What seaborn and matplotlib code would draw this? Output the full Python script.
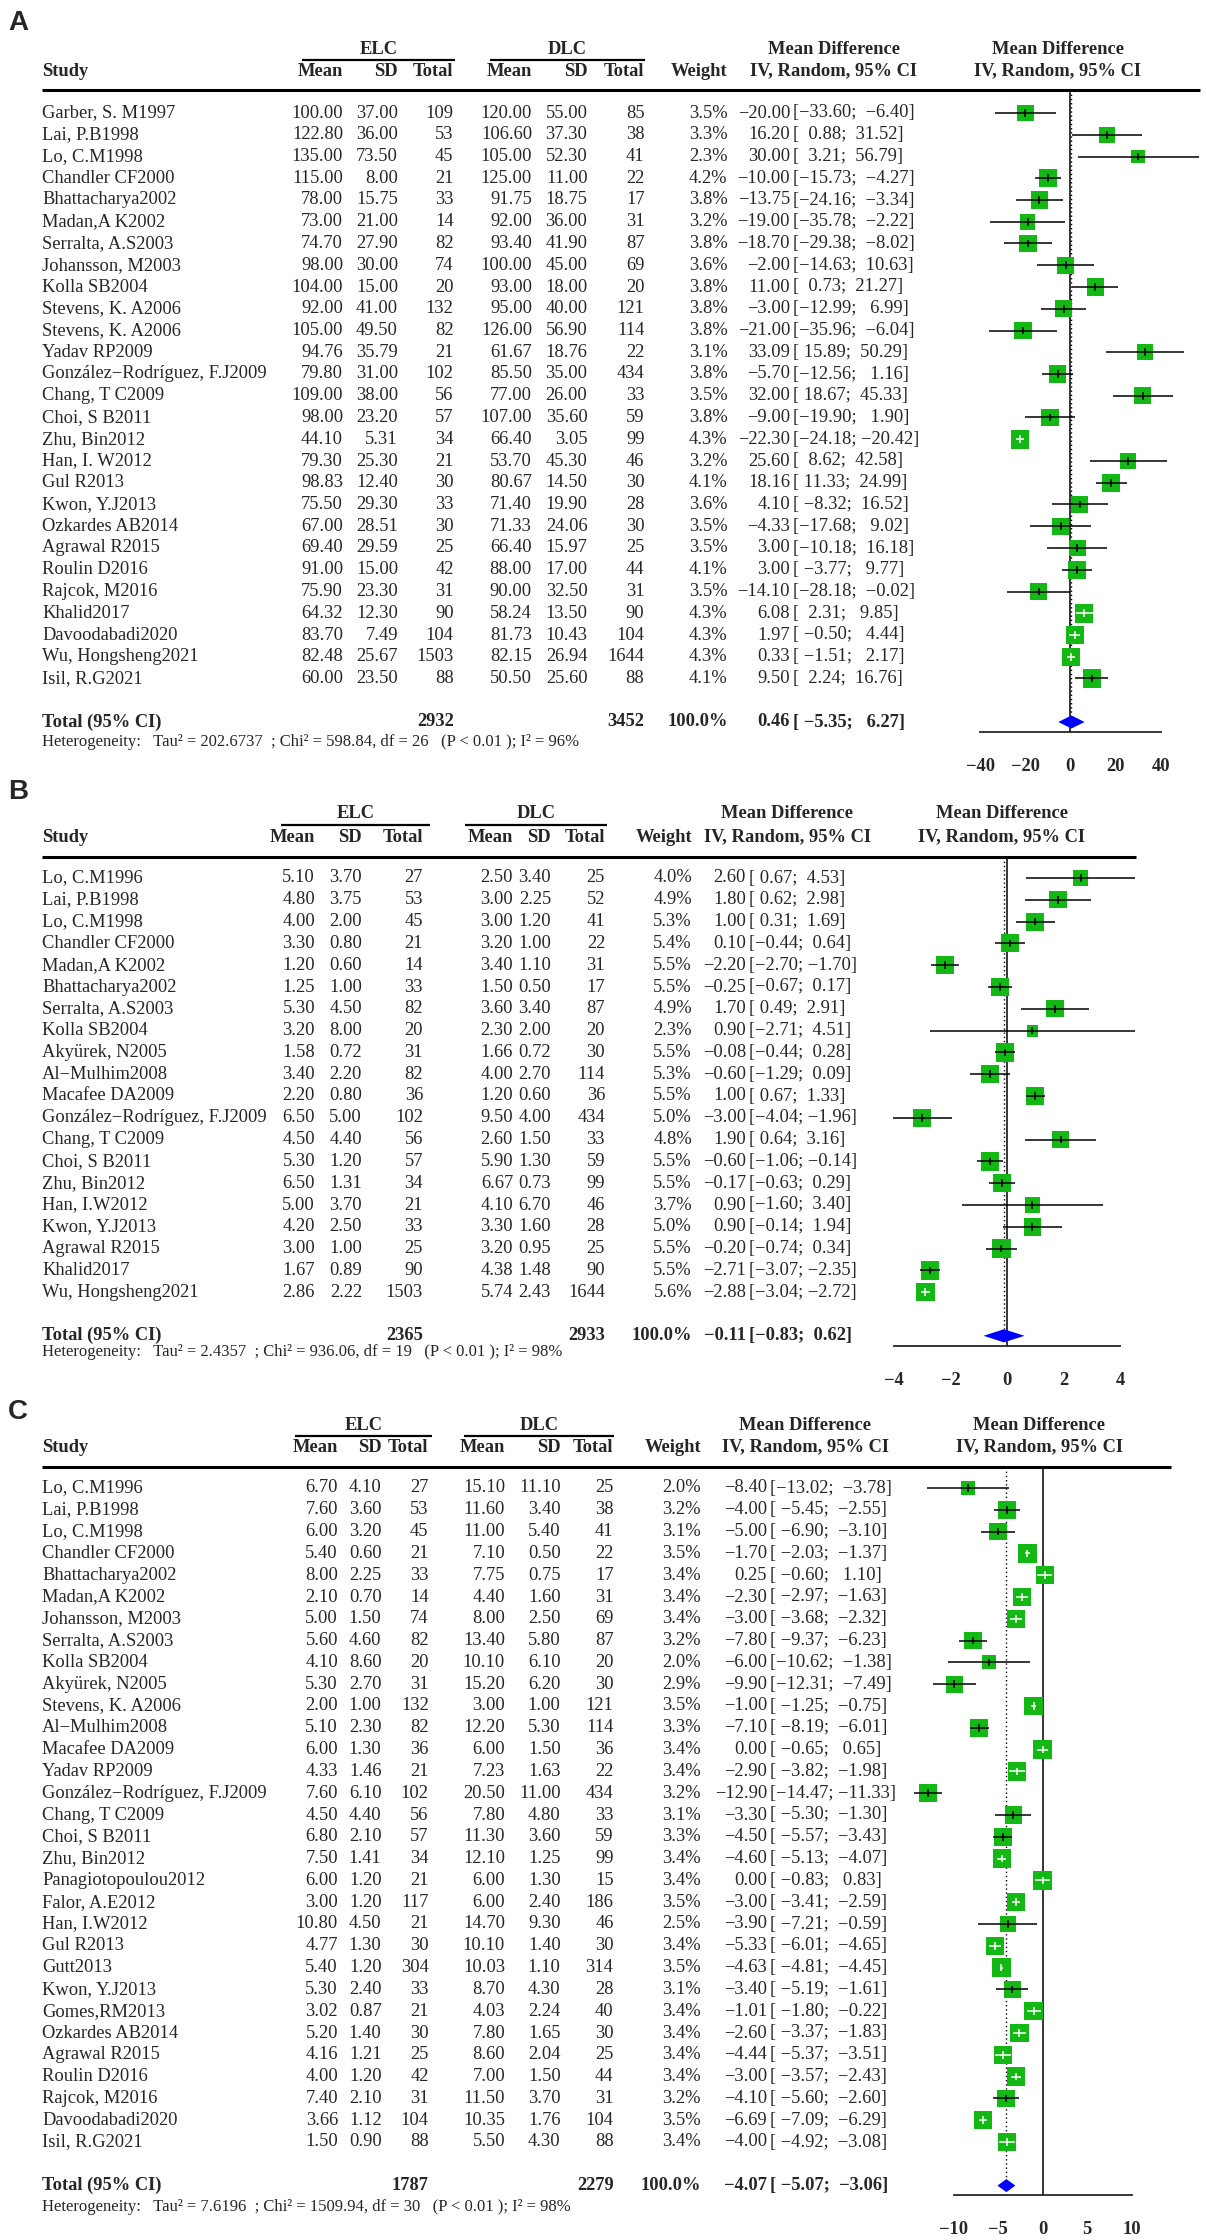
import numpy as np
import matplotlib
matplotlib.use("Agg")
import matplotlib.pyplot as plt
import seaborn as sns

# ---------------- panel A ----------------
a_study = ["Garber, S. M1997", "Lai, P.B1998", "Lo, C.M1998", "Chandler CF2000", "Bhattacharya2002",
           "Madan,A K2002", "Serralta, A.S2003", "Johansson, M2003", "Kolla SB2004", "Stevens, K. A2006",
           "Stevens, K. A2006", "Yadav RP2009", "González−Rodríguez, F.J2009", "Chang, T C2009",
           "Choi, S B2011", "Zhu, Bin2012", "Han, I. W2012", "Gul R2013", "Kwon, Y.J2013",
           "Ozkardes AB2014", "Agrawal R2015", "Roulin D2016", "Rajcok, M2016", "Khalid2017",
           "Davoodabadi2020", "Wu, Hongsheng2021", "Isil, R.G2021"]
a_elc_mean = [100.00, 122.80, 135.00, 115.00, 78.00, 73.00, 74.70, 98.00, 104.00, 92.00, 105.00, 94.76,
              79.80, 109.00, 98.00, 44.10, 79.30, 98.83, 75.50, 67.00, 69.40, 91.00, 75.90, 64.32,
              83.70, 82.48, 60.00]
a_elc_sd = [37.00, 36.00, 73.50, 8.00, 15.75, 21.00, 27.90, 30.00, 15.00, 41.00, 49.50, 35.79, 31.00,
            38.00, 23.20, 5.31, 25.30, 12.40, 29.30, 28.51, 29.59, 15.00, 23.30, 12.30, 7.49, 25.67, 23.50]
a_elc_n = [109, 53, 45, 21, 33, 14, 82, 74, 20, 132, 82, 21, 102, 56, 57, 34, 21, 30, 33, 30, 25, 42,
           31, 90, 104, 1503, 88]
a_dlc_mean = [120.00, 106.60, 105.00, 125.00, 91.75, 92.00, 93.40, 100.00, 93.00, 95.00, 126.00, 61.67,
              85.50, 77.00, 107.00, 66.40, 53.70, 80.67, 71.40, 71.33, 66.40, 88.00, 90.00, 58.24,
              81.73, 82.15, 50.50]
a_dlc_sd = [55.00, 37.30, 52.30, 11.00, 18.75, 36.00, 41.90, 45.00, 18.00, 40.00, 56.90, 18.76, 35.00,
            26.00, 35.60, 3.05, 45.30, 14.50, 19.90, 24.06, 15.97, 17.00, 32.50, 13.50, 10.43, 26.94, 25.60]
a_dlc_n = [85, 38, 41, 22, 17, 31, 87, 69, 20, 121, 114, 22, 434, 33, 59, 99, 46, 30, 28, 30, 25, 44,
           31, 90, 104, 1644, 88]
a_weight = [3.5, 3.3, 2.3, 4.2, 3.8, 3.2, 3.8, 3.6, 3.8, 3.8, 3.8, 3.1, 3.8, 3.5, 3.8, 4.3, 3.2, 4.1,
            3.6, 3.5, 3.5, 4.1, 3.5, 4.3, 4.3, 4.3, 4.1]
a_md = [-20.00, 16.20, 30.00, -10.00, -13.75, -19.00, -18.70, -2.00, 11.00, -3.00, -21.00, 33.09, -5.70,
        32.00, -9.00, -22.30, 25.60, 18.16, 4.10, -4.33, 3.00, 3.00, -14.10, 6.08, 1.97, 0.33, 9.50]
a_lo = [-33.60, 0.88, 3.21, -15.73, -24.16, -35.78, -29.38, -14.63, 0.73, -12.99, -35.96, 15.89, -12.56,
        18.67, -19.90, -24.18, 8.62, 11.33, -8.32, -17.68, -10.18, -3.77, -28.18, 2.31, -0.50, -1.51, 2.24]
a_hi = [-6.40, 31.52, 56.79, -4.27, -3.34, -2.22, -8.02, 10.63, 21.27, 6.99, -6.04, 50.29, 1.16, 45.33,
        1.90, -20.42, 42.58, 24.99, 16.52, 9.02, 16.18, 9.77, -0.02, 9.85, 4.44, 2.17, 16.76]
a_total = [2932, 3452, 0.46, -5.35, 6.27]          # n ELC, n DLC, MD, lower, upper
a_het = ["202.6737", "598.84", 26, "0.01", 96]     # tau2, chi2, df, p, I2

# ---------------- panel B ----------------
b_study = ["Lo, C.M1996", "Lai, P.B1998", "Lo, C.M1998", "Chandler CF2000", "Madan,A K2002",
           "Bhattacharya2002", "Serralta, A.S2003", "Kolla SB2004", "Akyürek, N2005", "Al−Mulhim2008",
           "Macafee DA2009", "González−Rodríguez, F.J2009", "Chang, T C2009", "Choi, S B2011",
           "Zhu, Bin2012", "Han, I.W2012", "Kwon, Y.J2013", "Agrawal R2015", "Khalid2017",
           "Wu, Hongsheng2021"]
b_elc_mean = [5.10, 4.80, 4.00, 3.30, 1.20, 1.25, 5.30, 3.20, 1.58, 3.40, 2.20, 6.50, 4.50, 5.30, 6.50,
              5.00, 4.20, 3.00, 1.67, 2.86]
b_elc_sd = [3.70, 3.75, 2.00, 0.80, 0.60, 1.00, 4.50, 8.00, 0.72, 2.20, 0.80, 5.00, 4.40, 1.20, 1.31,
            3.70, 2.50, 1.00, 0.89, 2.22]
b_elc_n = [27, 53, 45, 21, 14, 33, 82, 20, 31, 82, 36, 102, 56, 57, 34, 21, 33, 25, 90, 1503]
b_dlc_mean = [2.50, 3.00, 3.00, 3.20, 3.40, 1.50, 3.60, 2.30, 1.66, 4.00, 1.20, 9.50, 2.60, 5.90, 6.67,
              4.10, 3.30, 3.20, 4.38, 5.74]
b_dlc_sd = [3.40, 2.25, 1.20, 1.00, 1.10, 0.50, 3.40, 2.00, 0.72, 2.70, 0.60, 4.00, 1.50, 1.30, 0.73,
            6.70, 1.60, 0.95, 1.48, 2.43]
b_dlc_n = [25, 52, 41, 22, 31, 17, 87, 20, 30, 114, 36, 434, 33, 59, 99, 46, 28, 25, 90, 1644]
b_weight = [4.0, 4.9, 5.3, 5.4, 5.5, 5.5, 4.9, 2.3, 5.5, 5.3, 5.5, 5.0, 4.8, 5.5, 5.5, 3.7, 5.0, 5.5,
            5.5, 5.6]
b_md = [2.60, 1.80, 1.00, 0.10, -2.20, -0.25, 1.70, 0.90, -0.08, -0.60, 1.00, -3.00, 1.90, -0.60, -0.17,
        0.90, 0.90, -0.20, -2.71, -2.88]
b_lo = [0.67, 0.62, 0.31, -0.44, -2.70, -0.67, 0.49, -2.71, -0.44, -1.29, 0.67, -4.04, 0.64, -1.06, -0.63,
        -1.60, -0.14, -0.74, -3.07, -3.04]
b_hi = [4.53, 2.98, 1.69, 0.64, -1.70, 0.17, 2.91, 4.51, 0.28, 0.09, 1.33, -1.96, 3.16, -0.14, 0.29,
        3.40, 1.94, 0.34, -2.35, -2.72]
b_total = [2365, 2933, -0.11, -0.83, 0.62]
b_het = ["2.4357", "936.06", 19, "0.01", 98]

# ---------------- panel C ----------------
c_study = ["Lo, C.M1996", "Lai, P.B1998", "Lo, C.M1998", "Chandler CF2000", "Bhattacharya2002",
           "Madan,A K2002", "Johansson, M2003", "Serralta, A.S2003", "Kolla SB2004", "Akyürek, N2005",
           "Stevens, K. A2006", "Al−Mulhim2008", "Macafee DA2009", "Yadav RP2009",
           "González−Rodríguez, F.J2009", "Chang, T C2009", "Choi, S B2011", "Zhu, Bin2012",
           "Panagiotopoulou2012", "Falor, A.E2012", "Han, I.W2012", "Gul R2013", "Gutt2013",
           "Kwon, Y.J2013", "Gomes,RM2013", "Ozkardes AB2014", "Agrawal R2015", "Roulin D2016",
           "Rajcok, M2016", "Davoodabadi2020", "Isil, R.G2021"]
c_elc_mean = [6.70, 7.60, 6.00, 5.40, 8.00, 2.10, 5.00, 5.60, 4.10, 5.30, 2.00, 5.10, 6.00, 4.33, 7.60,
              4.50, 6.80, 7.50, 6.00, 3.00, 10.80, 4.77, 5.40, 5.30, 3.02, 5.20, 4.16, 4.00, 7.40, 3.66, 1.50]
c_elc_sd = [4.10, 3.60, 3.20, 0.60, 2.25, 0.70, 1.50, 4.60, 8.60, 2.70, 1.00, 2.30, 1.30, 1.46, 6.10,
            4.40, 2.10, 1.41, 1.20, 1.20, 4.50, 1.30, 1.20, 2.40, 0.87, 1.40, 1.21, 1.20, 2.10, 1.12, 0.90]
c_elc_n = [27, 53, 45, 21, 33, 14, 74, 82, 20, 31, 132, 82, 36, 21, 102, 56, 57, 34, 21, 117, 21, 30,
           304, 33, 21, 30, 25, 42, 31, 104, 88]
c_dlc_mean = [15.10, 11.60, 11.00, 7.10, 7.75, 4.40, 8.00, 13.40, 10.10, 15.20, 3.00, 12.20, 6.00, 7.23,
              20.50, 7.80, 11.30, 12.10, 6.00, 6.00, 14.70, 10.10, 10.03, 8.70, 4.03, 7.80, 8.60, 7.00,
              11.50, 10.35, 5.50]
c_dlc_sd = [11.10, 3.40, 5.40, 0.50, 0.75, 1.60, 2.50, 5.80, 6.10, 6.20, 1.00, 5.30, 1.50, 1.63, 11.00,
            4.80, 3.60, 1.25, 1.30, 2.40, 9.30, 1.40, 1.10, 4.30, 2.24, 1.65, 2.04, 1.50, 3.70, 1.76, 4.30]
c_dlc_n = [25, 38, 41, 22, 17, 31, 69, 87, 20, 30, 121, 114, 36, 22, 434, 33, 59, 99, 15, 186, 46, 30,
           314, 28, 40, 30, 25, 44, 31, 104, 88]
c_weight = [2.0, 3.2, 3.1, 3.5, 3.4, 3.4, 3.4, 3.2, 2.0, 2.9, 3.5, 3.3, 3.4, 3.4, 3.2, 3.1, 3.3, 3.4,
            3.4, 3.5, 2.5, 3.4, 3.5, 3.1, 3.4, 3.4, 3.4, 3.4, 3.2, 3.5, 3.4]
c_md = [-8.40, -4.00, -5.00, -1.70, 0.25, -2.30, -3.00, -7.80, -6.00, -9.90, -1.00, -7.10, 0.00, -2.90,
        -12.90, -3.30, -4.50, -4.60, 0.00, -3.00, -3.90, -5.33, -4.63, -3.40, -1.01, -2.60, -4.44, -3.00,
        -4.10, -6.69, -4.00]
c_lo = [-13.02, -5.45, -6.90, -2.03, -0.60, -2.97, -3.68, -9.37, -10.62, -12.31, -1.25, -8.19, -0.65,
        -3.82, -14.47, -5.30, -5.57, -5.13, -0.83, -3.41, -7.21, -6.01, -4.81, -5.19, -1.80, -3.37, -5.37,
        -3.57, -5.60, -7.09, -4.92]
c_hi = [-3.78, -2.55, -3.10, -1.37, 1.10, -1.63, -2.32, -6.23, -1.38, -7.49, -0.75, -6.01, 0.65, -1.98,
        -11.33, -1.30, -3.43, -4.07, 0.83, -2.59, -0.59, -4.65, -4.45, -1.61, -0.22, -1.83, -3.51, -2.43,
        -2.60, -6.29, -3.08]
c_total = [1787, 2279, -4.07, -5.07, -3.06]
c_het = ["7.6196", "1509.94", 30, "0.01", 98]

W, H = 1206, 2240
SERIF = "Liberation Serif"
FS = 13.3
GREEN = "#14B814"

sns.set_style("white")
fig = plt.figure(figsize=(W / 100, H / 100), dpi=100)
bg = fig.add_axes([0, 0, 1, 1])
bg.set_xlim(0, W)
bg.set_ylim(H, 0)
bg.axis("off")


def fmt(v):
    return f"{v:.2f}".replace("-", "\u2212")


def txt(x, y, s, ha="left", bold=False, size=FS):
    bg.text(x, y, s, ha=ha, va="center", fontsize=size, family=SERIF,
            fontweight="bold" if bold else "normal")


def hline(x0, x1, y, lw):
    bg.plot([x0, x1], [y, y], color="black", lw=lw, solid_capstyle="butt")


def panel(tag, study, em, es, en, dm, ds, dn, wt, md, lo, hi, total, het, L):
    n = len(study)
    first, dy = L["first"], L["dy"]
    ys = [first + i * dy for i in range(n)]
    ty = first + (n + 1) * dy

    bg.text(8, L["letter"], tag, ha="left", va="center", fontsize=20,
            family="Liberation Sans", fontweight="bold")

    # header
    for lab, (x0, x1) in (("ELC", L["elc_line"]), ("DLC", L["dlc_line"])):
        txt((x0 + x1) / 2, L["grp"], lab, ha="center", bold=True)
        hline(x0, x1, L["grp_line"], 1.6)
    txt(42, L["sub"], "Study", bold=True)
    for x, lab in zip(L["cols"], ["Mean", "SD", "Total", "Mean", "SD", "Total"]):
        txt(x, L["sub"], lab, ha="right", bold=True)
    txt(L["weight"], L["sub"], "Weight", ha="right", bold=True)
    for x in (L["ci_hdr"], L["fp_hdr"]):
        txt(x, L["grp"], "Mean Difference", ha="center", bold=True)
        txt(x, L["sub"], "IV, Random, 95% CI", ha="center", bold=True)
    hline(42, L["line_end"], L["thick"], 2.2)

    # table rows
    lo_s = [fmt(v) for v in lo + [total[3]]]
    hi_s = [fmt(v) for v in hi + [total[4]]]
    wl = max(len(s) for s in lo_s)
    wh = max(len(s) for s in hi_s)
    br = L["bracket"]
    for i in range(n):
        y = ys[i]
        txt(42, y, study[i])
        vals = [fmt(em[i]), fmt(es[i]), str(en[i]), fmt(dm[i]), fmt(ds[i]), str(dn[i])]
        for x, s in zip(L["cols"], vals):
            txt(x, y, s, ha="right")
        txt(L["weight"], y, f"{wt[i]:.1f}%", ha="right")
        txt(br - 3, y, fmt(md[i]), ha="right")
        txt(br, y, f"[{lo_s[i].rjust(wl)}; {hi_s[i].rjust(wh)}]")

    # total row
    txt(42, ty, "Total (95% CI)", bold=True)
    txt(L["cols"][2], ty, str(total[0]), ha="right", bold=True)
    txt(L["cols"][5], ty, str(total[1]), ha="right", bold=True)
    txt(L["weight"], ty, "100.0%", ha="right", bold=True)
    txt(br - 3, ty, fmt(total[2]), ha="right", bold=True)
    txt(br, ty, f"[{lo_s[-1].rjust(wl)}; {hi_s[-1].rjust(wh)}]", bold=True)
    txt(42, L["het"], f"Heterogeneity:   Tau\u00b2 = {het[0]}  ; Chi\u00b2 = {het[1]}, df = {het[2]}"
        f"   (P < {het[3]} ); I\u00b2 = {het[4]}%", size=12)

    # forest plot
    zero, ppu = L["zero"], L["ppu"]
    xa0, xa1 = 840, W
    ya0, ya1 = L["thick"], L["axis"]
    ax = fig.add_axes([xa0 / W, 1 - ya1 / H, (xa1 - xa0) / W, (ya1 - ya0) / H])
    ax.patch.set_alpha(0)

    idx = np.arange(n)
    wt_a = np.array(wt)
    side = 18.5 * np.sqrt(wt_a / wt_a.max())
    sns.scatterplot(x=np.array(md), y=idx, s=(side * 0.72) ** 2, marker="s", color=GREEN,
                    linewidth=0, ax=ax, legend=False, zorder=2)
    width_px = (np.array(hi) - np.array(lo)) * ppu
    cols = ["white" if wpx < sd else "black" for wpx, sd in zip(width_px, side)]
    ax.hlines(idx, lo, hi, colors=cols, lw=1.1, zorder=3)
    ax.scatter(md, idx, marker="|", s=30, c=cols, linewidths=1.1, zorder=3)

    top = (ya0 - first) / dy
    bot = (ya1 - first) / dy
    ax.axvline(0, color="black", lw=1.1, zorder=1)
    ax.vlines(total[2], top, n + 1 - 0.3, colors="black", lw=1.0, linestyles=(0, (1, 2)), zorder=1)
    dh = 0.3
    ax.fill([total[3], total[2], total[4], total[2]], [n + 1, n + 1 - dh, n + 1, n + 1 + dh],
            color="#0000FF", lw=0, zorder=3)

    ax.set_xlim((xa0 - zero) / ppu, (xa1 - zero) / ppu)
    ax.set_ylim(bot, top)
    ax.set_yticks([])
    ax.set_xticks(L["ticks"])
    for s in ("top", "left", "right"):
        ax.spines[s].set_visible(False)
    ax.spines["bottom"].set_bounds(L["ticks"][0], L["ticks"][-1])
    ax.spines["bottom"].set_linewidth(1.3)
    ax.tick_params(axis="x", direction="out", length=8, width=1.3, pad=11, labelsize=FS)
    for lab in ax.get_xticklabels():
        lab.set_fontfamily(SERIF)
        lab.set_fontweight("bold")
    ax.set_xlabel("")
    ax.set_ylabel("")


panel("A", a_study, a_elc_mean, a_elc_sd, a_elc_n, a_dlc_mean, a_dlc_sd, a_dlc_n, a_weight,
      a_md, a_lo, a_hi, a_total, a_het,
      dict(letter=23, grp=49, grp_line=60, sub=71, thick=90, first=113, dy=21.75, het=742, axis=732,
           elc_line=(302, 455), dlc_line=(490, 645), cols=[343, 398, 453.5, 532, 587.5, 644.5],
           weight=727.6, bracket=793, ci_hdr=834, fp_hdr=1058, line_end=1200,
           zero=1070.4, ppu=2.257, ticks=[-40, -20, 0, 20, 40]))

panel("B", b_study, b_elc_mean, b_elc_sd, b_elc_n, b_dlc_mean, b_dlc_sd, b_dlc_n, b_weight,
      b_md, b_lo, b_hi, b_total, b_het,
      dict(letter=792, grp=813, grp_line=825, sub=837, thick=857, first=878, dy=21.8, het=1352, axis=1346,
           elc_line=(281, 430), dlc_line=(465, 607), cols=[315, 362, 423, 513, 551, 605],
           weight=692, bracket=749, ci_hdr=787, fp_hdr=1002, line_end=1136,
           zero=1007, ppu=28.3, ticks=[-4, -2, 0, 2, 4]))

panel("C", c_study, c_elc_mean, c_elc_sd, c_elc_n, c_dlc_mean, c_dlc_sd, c_dlc_n, c_weight,
      c_md, c_lo, c_hi, c_total, c_het,
      dict(letter=1412, grp=1425, grp_line=1436, sub=1447, thick=1467, first=1488, dy=21.8, het=2207,
           axis=2195, elc_line=(295, 432), dlc_line=(464, 614), cols=[338, 381.5, 428.6, 505, 560.6, 613.5],
           weight=701, bracket=770, ci_hdr=805, fp_hdr=1039, line_end=1171,
           zero=1042.6, ppu=8.9, ticks=[-10, -5, 0, 5, 10]))

fig.savefig("out.png", dpi=100)
